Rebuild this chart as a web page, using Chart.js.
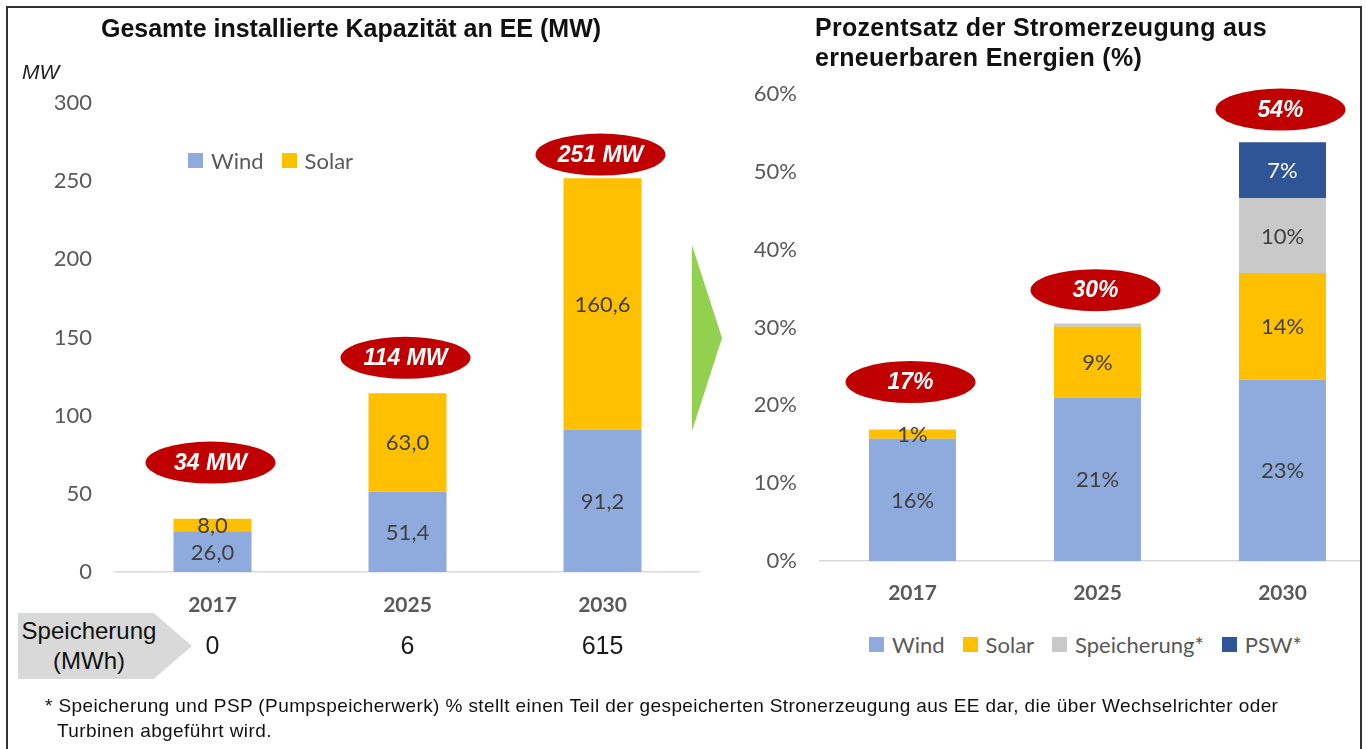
<!DOCTYPE html>
<html lang="de">
<head>
<meta charset="UTF-8">
<title>Erneuerbare Energien: Kapazität und Anteil</title>
<script src="https://cdn.jsdelivr.net/npm/chart.js@4"></script>
<style>
  html, body { margin: 0; padding: 0; background: #fff; }
  body { width: 1366px; height: 749px; overflow: hidden; position: relative;
         font-family: "Liberation Sans", Arial, sans-serif; }
  #stage { position: absolute; left: 0; top: 0; width: 1361px; height: 749px; overflow: hidden; }
  #frame { position: absolute; left: 6px; top: 6px; width: 1356px; height: 770px;
           border: 2px solid #333; box-sizing: border-box; pointer-events: none; }
  canvas { position: absolute; top: 0; }
  .title { position: absolute; font-weight: bold; font-size: 25px; line-height: 30px; color: #111; white-space: nowrap; }
  #unit { position: absolute; left: 22px; top: 60px; font-style: italic; font-size: 21px; color: #222; }
  .legend { position: absolute; display: flex; align-items: center; height: 26px;
            font-family: Lato, "Noto Sans", sans-serif; font-size: 22px; color: #595959; white-space: nowrap; }
  .legend .item { display: flex; align-items: center; margin-right: 18px; }
  .legend i { display: inline-block; width: 15px; height: 15px; margin-right: 8px; }
  #storeTag { position: absolute; left: 18px; top: 613px; width: 174px; height: 66px; background: #d9d9d9;
              clip-path: polygon(0 0, 78% 0, 100% 50%, 78% 100%, 0 100%); }
  #storeTag div { position: absolute; left: 0; width: 142px; text-align: center; font-size: 24px; line-height: 30px; color: #111; }
  #arrow { position: absolute; left: 692px; top: 245px; width: 30px; height: 186px; background: #92d050;
           clip-path: polygon(0 0, 100% 50%, 0 100%); }
  #note { position: absolute; left: 45px; top: 693px; width: 1310px; font-size: 19px; line-height: 25px; color: #111;
          letter-spacing: 0.4px; padding-left: 12px; text-indent: -12px; white-space: nowrap; }
</style>
</head>
<body>
<div id="stage">
  <canvas id="capChart" width="700" height="700" style="left:0"></canvas>
  <canvas id="shareChart" width="675" height="610" style="left:700px"></canvas>

  <div class="title" style="left:0; width:702px; text-align:center; top:13px;">Gesamte installierte Kapazität an EE (MW)</div>
  <div class="title" style="left:815px; top:12px; letter-spacing:0.3px;">Prozentsatz der Stromerzeugung aus<br>erneuerbaren Energien (%)</div>
  <div id="unit">MW</div>

  <div id="capLegend" class="legend" style="left:188px; top:147px;"></div>
  <div id="shareLegend" class="legend" style="left:869px; top:631px;"></div>

  <div id="storeTag">
    <div style="top:3px;">Speicherung</div>
    <div style="top:33px;">(MWh)</div>
  </div>
  <div id="arrow"></div>

  <div id="note">* Speicherung und PSP (Pumpspeicherwerk) % stellt einen Teil der gespeicherten Stronerzeugung aus EE dar, die über Wechselrichter oder<br>Turbinen abgeführt wird.</div>
</div>
<div id="frame"></div>

<script>
  // Kategorien
  const years = ["2017", "2025", "2030"];

  // Installierte Kapazität (MW)
  const capWind = [26.0, 51.4, 91.2];
  const capSolar = [8.0, 63.0, 160.6];
  const capTotals = ["34 MW", "114 MW", "251 MW"];
  const capBubbleAt = [70, 137, 267];   // Höhe der roten Ellipse (MW)
  const storageMWh = ["0", "6", "615"];

  // Anteil an der Stromerzeugung (%)
  const shareWind = [15.7, 21.0, 23.3];
  const shareSolar = [1.2, 9.1, 13.7];
  const shareStorage = [0, 0.4, 9.6];
  const sharePSW = [0, 0, 7.2];
  const shareTotals = ["17%", "30%", "54%"];
  const shareBubbleAt = [23, 34.8, 58];  // Höhe der roten Ellipse (%)

  const capTicks = [0, 50, 100, 150, 200, 250, 300];
  const shareTicks = [0, 10, 20, 30, 40, 50, 60];

  const seriesNames = ["Wind", "Solar", "Speicherung*", "PSW*"];
  const seriesColors = ["#8faadc", "#ffc000", "#c9c9c9", "#2f5597"];
  const labelColors = ["#404040", "#404040", "#404040", "#ffffff"];

  const numFont = "Lato, 'Noto Sans', sans-serif";
  const gray = "#595959";

  // Werte mittig in die Segmente schreiben
  function segmentLabels(format, minValue) {
    return {
      id: "segmentLabels",
      afterDatasetsDraw(chart) {
        const ctx = chart.ctx;
        ctx.save();
        ctx.font = "22px " + numFont;
        ctx.textAlign = "center";
        ctx.textBaseline = "middle";
        chart.data.datasets.forEach((ds, di) => {
          ctx.fillStyle = labelColors[di];
          chart.getDatasetMeta(di).data.forEach((bar, i) => {
            const v = ds.data[i];
            if (v < minValue) return;
            ctx.fillText(format(v), bar.x, (bar.y + bar.base) / 2 + 1);
          });
        });
        ctx.restore();
      }
    };
  }

  // rote Ellipsen mit Summen
  function totalBubbles(texts, levels) {
    return {
      id: "totalBubbles",
      afterDatasetsDraw(chart) {
        const ctx = chart.ctx;
        const xs = chart.scales.x, ys = chart.scales.y;
        ctx.save();
        texts.forEach((t, i) => {
          const x = xs.getPixelForValue(i) - 2;
          const y = ys.getPixelForValue(levels[i]);
          ctx.beginPath();
          ctx.ellipse(x, y, 65, 21, 0, 0, 2 * Math.PI);
          ctx.fillStyle = "#c00000";
          ctx.fill();
          ctx.font = "italic bold 23px 'Liberation Sans', Arial, sans-serif";
          ctx.fillStyle = "#fff";
          ctx.textAlign = "center";
          ctx.textBaseline = "middle";
          ctx.fillText(t, x, y + 1);
        });
        ctx.restore();
      }
    };
  }

  // Speicherwerte (MWh) unter den Jahren
  const storageRow = {
    id: "storageRow",
    afterDraw(chart) {
      const ctx = chart.ctx;
      ctx.save();
      ctx.font = "25px 'Liberation Sans', Arial, sans-serif";
      ctx.fillStyle = "#1a1a1a";
      ctx.textAlign = "center";
      ctx.textBaseline = "middle";
      storageMWh.forEach((v, i) => {
        ctx.fillText(v, chart.scales.x.getPixelForValue(i), 647);
      });
      ctx.restore();
    }
  };

  function baseScales(maxY, step, yWidth, xHeight, xPad, tickFmt) {
    return {
      x: {
        stacked: true,
        grid: { display: true, drawOnChartArea: false, drawTicks: false },
        border: { display: true, color: "#d9d9d9", width: 1.5 },
        ticks: { color: gray, padding: xPad, font: { family: numFont, size: 21, weight: "bold" } },
        afterFit: s => { s.height = xHeight; }
      },
      y: {
        stacked: true, min: 0, max: maxY,
        grid: { display: false },
        border: { display: false },
        ticks: { stepSize: step, padding: 15, color: gray, font: { family: numFont, size: 22 }, callback: tickFmt },
        afterFit: s => { s.width = yWidth; }
      }
    };
  }

  new Chart(document.getElementById("capChart"), {
    type: "bar",
    data: {
      labels: years,
      datasets: [
        { label: seriesNames[0], data: capWind, backgroundColor: seriesColors[0] },
        { label: seriesNames[1], data: capSolar, backgroundColor: seriesColors[1] }
      ]
    },
    options: {
      responsive: false,
      animation: false,
      datasets: { bar: { categoryPercentage: 1, barPercentage: 0.4 } },
      layout: { padding: { top: 103, left: 0, right: 0, bottom: 0 } },
      plugins: { legend: { display: false }, tooltip: { enabled: false } },
      scales: baseScales(capTicks[capTicks.length - 1], capTicks[1] - capTicks[0], 115, 128, 21, v => v)
    },
    plugins: [
      segmentLabels(v => v.toFixed(1).replace(".", ","), 1),
      totalBubbles(capTotals, capBubbleAt),
      storageRow
    ]
  });

  new Chart(document.getElementById("shareChart"), {
    type: "bar",
    data: {
      labels: years,
      datasets: [
        { label: seriesNames[0], data: shareWind, backgroundColor: seriesColors[0] },
        { label: seriesNames[1], data: shareSolar, backgroundColor: seriesColors[1] },
        { label: seriesNames[2], data: shareStorage, backgroundColor: seriesColors[2] },
        { label: seriesNames[3], data: sharePSW, backgroundColor: seriesColors[3] }
      ]
    },
    options: {
      responsive: false,
      animation: false,
      datasets: { bar: { categoryPercentage: 1, barPercentage: 0.47 } },
      layout: { padding: { top: 94, left: 0, right: 0, bottom: 0 } },
      plugins: { legend: { display: false }, tooltip: { enabled: false } },
      scales: baseScales(shareTicks[shareTicks.length - 1], shareTicks[1] - shareTicks[0], 120, 49, 20, v => v + "%")
    },
    plugins: [
      segmentLabels(v => Math.round(v) + "%", 0.8),
      totalBubbles(shareTotals, shareBubbleAt)
    ]
  });

  // HTML-Legenden
  function buildLegend(el, count) {
    for (let i = 0; i < count; i++) {
      const item = document.createElement("span");
      item.className = "item";
      const sw = document.createElement("i");
      sw.style.background = seriesColors[i];
      item.appendChild(sw);
      item.appendChild(document.createTextNode(seriesNames[i]));
      el.appendChild(item);
    }
  }
  buildLegend(document.getElementById("capLegend"), 2);
  buildLegend(document.getElementById("shareLegend"), 4);
</script>
</body>
</html>
